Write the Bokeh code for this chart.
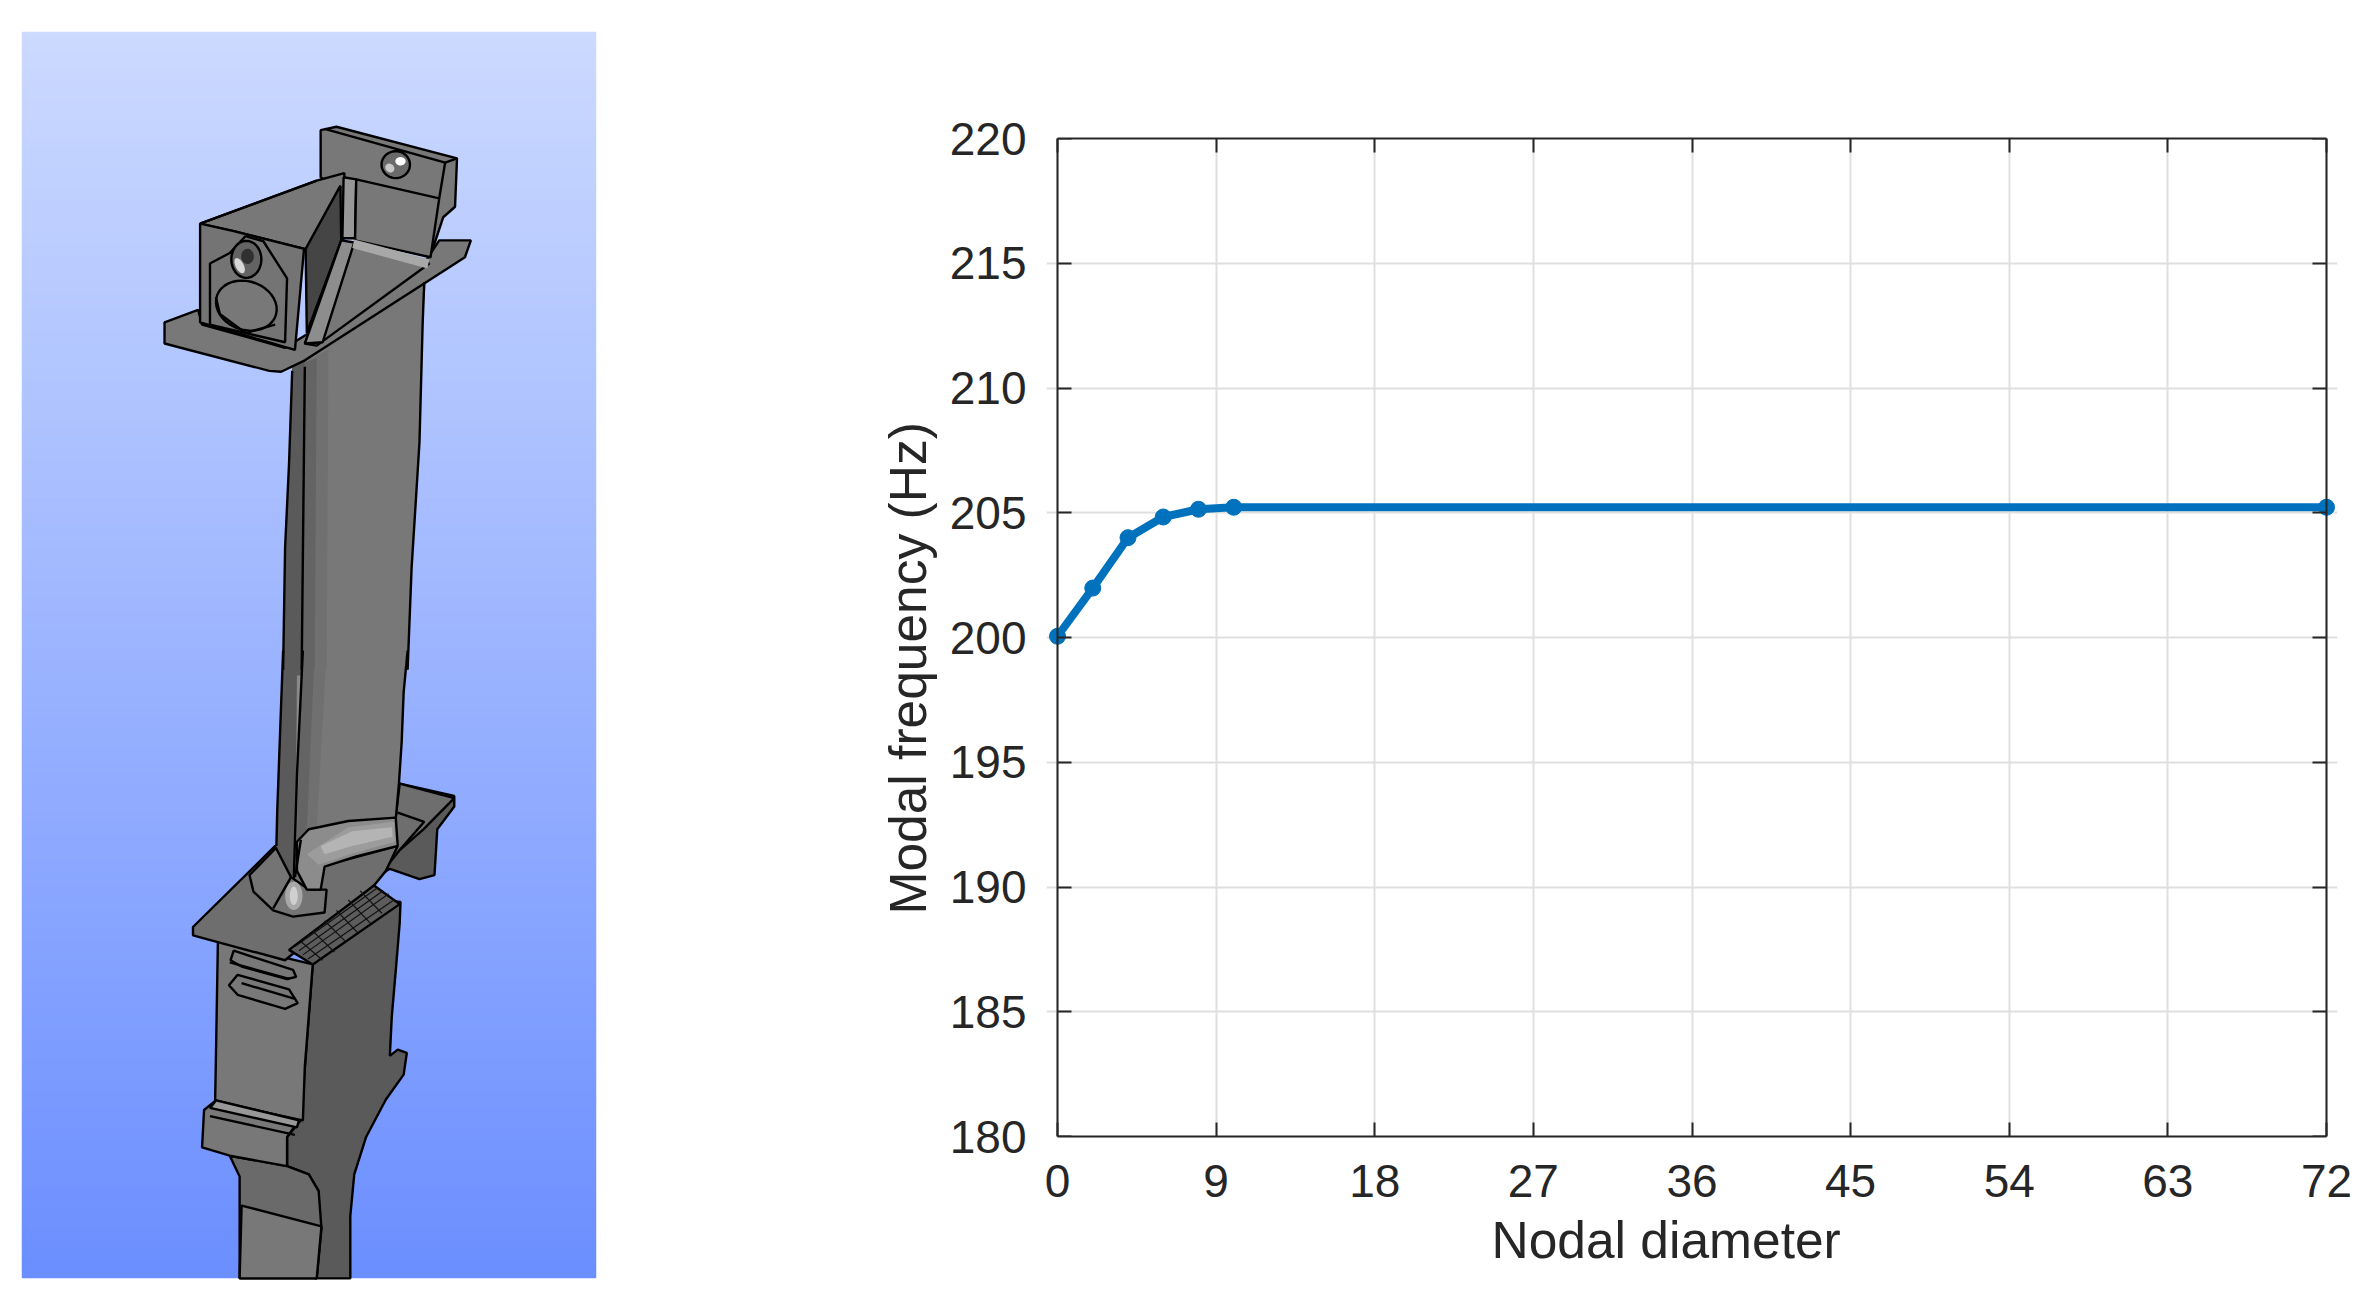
from bokeh.embed import file_html
from bokeh.layouts import row
from bokeh.models import FixedTicker, LinearAxis, Range1d, Title
from bokeh.plotting import figure
from bokeh.resources import INLINE
import numpy as np

# chart values
nodal_diameter = [0, 2, 4, 6, 8, 10, 72]
modal_frequency = [200.05, 201.98, 204.0, 204.83, 205.14, 205.22, 205.22]
x_ticks = [0, 9, 18, 27, 36, 45, 54, 63, 72]
y_ticks = [180, 185, 190, 195, 200, 205, 210, 215, 220]

FONT = "Liberation Sans"
INK = "#262626"
GRID = "#dfdfdf"
BLUE = "#0072BD"

BODY = "#787878"
SIDE = "#5a5a5a"
DARK = "#454545"


def top(pts):
    return [x / 2.53 for x, y in pts], [y / 2.376 for x, y in pts]


def low(pts):
    return [x / 2.53 for x, y in pts], [650 + y / 2.405 for x, y in pts]


def ellipse(cx, cy, rx, ry, tilt, n=40):
    t = np.linspace(0, 2 * np.pi, n)
    a = np.deg2rad(tilt)
    xs = cx + rx * np.cos(t) * np.cos(a) - ry * np.sin(t) * np.sin(a)
    ys = cy + rx * np.cos(t) * np.sin(a) + ry * np.sin(t) * np.cos(a)
    return list(zip(xs, ys))


# (crop function, points, fill colour, outlined)
shapes = [
    # rear plate at the top
    (top, [(810, 308), (850, 300), (1155, 375), (1150, 490), (1120, 515), (1090, 600), (810, 420)], BODY, True),
    # rear platform section
    (low, [(1010, 320), (1148, 350), (1148, 375), (1105, 430), (1098, 540), (1060, 550), (985, 525), (960, 540), (1000, 400)], SIDE, True),
    (low, [(1010, 320), (1148, 355), (1070, 430), (1010, 480), (960, 540), (1000, 400)], "#6e6e6e", True),
    # shank side, front and platform
    (low, [(790, 755), (960, 600), (1012, 605), (1010, 655), (1000, 770), (990, 880), (985, 975), (1005, 960), (1028, 968), (1020, 1020), (975, 1080), (925, 1170), (895, 1260), (885, 1360), (885, 1510), (795, 1510), (805, 1300), (780, 1260), (725, 1240), (725, 1170), (760, 1130)], SIDE, True),
    (low, [(550, 700), (790, 755), (770, 1000), (765, 1130), (543, 1085), (545, 980)], BODY, True),
    (low, [(487, 665), (695, 470), (810, 520), (1005, 470), (975, 530), (945, 565), (720, 745), (487, 685)], "#6e6e6e", True),
    (low, [(730, 720), (945, 565), (1010, 610), (790, 755)], "#5c5c5c", True),
    # blade
    (top, [(738, 860), (770, 840), (1078, 640), (1068, 770), (1060, 1050), (1050, 1200), (1040, 1350), (1030, 1590), (715, 1590), (720, 1300), (730, 1100)], BODY, False),
    (low, [(715, 0), (1030, 0), (1020, 100), (1015, 220), (1008, 320), (1000, 405), (880, 410), (780, 430), (750, 460), (740, 550), (698, 470), (700, 390), (708, 180)], BODY, False),
    (top, [(770, 860), (830, 830), (825, 1590), (762, 1590)], "#707070", False),
    (low, [(762, 0), (825, 0), (800, 430), (750, 460)], "#707070", False),
    (top, [(770, 860), (800, 850), (795, 1590), (762, 1590)], "#646464", False),
    (low, [(762, 0), (795, 0), (775, 435), (750, 460)], "#646464", False),
    (top, [(738, 860), (770, 840), (762, 1590), (715, 1590), (720, 1300), (730, 1100)], SIDE, False),
    (low, [(715, 0), (765, 0), (750, 300), (740, 550), (698, 470), (700, 390), (708, 180)], SIDE, False),
    (low, [(750, 60), (762, 60), (755, 240), (748, 300)], "#8a8a8a", False),
    # root fillets
    (low, [(630, 540), (697, 475), (735, 545), (780, 575), (825, 575), (820, 630), (740, 640), (690, 625), (640, 580)], "#747474", True),
    (low, [(750, 460), (780, 430), (880, 410), (1000, 402), (1005, 470), (900, 495), (820, 520), (810, 575), (775, 575), (750, 530)], "#8c8c8c", True),
    (low, [(775, 490), (880, 425), (995, 412), (998, 460), (890, 488), (805, 515)], "#9c9c9c", False),
    (low, [(810, 470), (890, 435), (990, 425), (992, 448), (890, 470), (820, 490)], "#b4b4b4", False),
    (low, ellipse(742, 590, 22, 34, 0), "#a8a8a8", False),
    (low, ellipse(742, 590, 10, 22, 0), "#d0d0d0", False),
    # slots on the shank
    (low, [(590, 722), (740, 768), (748, 785), (725, 790), (610, 760), (582, 745)], BODY, True),
    (low, [(600, 780), (730, 815), (752, 848), (720, 862), (600, 828), (578, 805)], BODY, True),
    # block and stem at the bottom
    (low, [(580, 1215), (725, 1240), (780, 1260), (805, 1300), (812, 1390), (800, 1510), (605, 1510), (605, 1265)], "#6a6a6a", True),
    (low, [(610, 1335), (812, 1385), (800, 1510), (605, 1510)], BODY, True),
    (low, [(515, 1105), (545, 1082), (755, 1130), (725, 1170), (725, 1240), (580, 1215), (510, 1195)], BODY, True),
    (low, [(545, 1082), (755, 1130), (750, 1147), (530, 1100)], "#989898", True),
    # flange, box walls and ribs at the top of the blade
    (top, [(415, 765), (500, 735), (510, 770), (720, 825), (1075, 620), (1110, 570), (1190, 570), (1175, 610), (770, 855), (710, 882), (680, 880), (415, 815)], BODY, True),
    (top, [(505, 530), (800, 428), (870, 410), (870, 565), (770, 590), (590, 548)], BODY, True),
    (top, [(505, 530), (590, 548), (768, 590), (745, 830), (505, 765)], "#747474", True),
    (top, [(860, 440), (862, 570), (775, 790), (772, 590)], DARK, True),
    (top, [(868, 420), (900, 425), (897, 565), (865, 565)], "#979797", True),
    (top, [(900, 425), (1110, 470), (1088, 610), (897, 570)], BODY, True),
    (top, [(895, 575), (1085, 625), (800, 820), (770, 815)], BODY, True),
    (top, [(862, 570), (895, 575), (815, 812), (770, 815)], "#8d8d8d", True),
    (top, [(895, 568), (1085, 615), (1080, 637), (890, 588)], "#a8a8a8", False),
    (top, [(580, 600), (620, 560), (665, 572), (725, 660), (720, 812), (530, 770), (530, 625)], "#747474", True),
    (top, ellipse(622, 725, 78, 58, 15), BODY, True),
    (top, ellipse(622, 615, 38, 44, 0), "#636363", True),
    (top, ellipse(605, 630, 10, 20, -30), "#d8d8d8", False),
    (top, ellipse(625, 608, 16, 18, 0), "#303030", False),
    (top, ellipse(1000, 390, 36, 32, 0), "#6a6a6a", True),
    (top, ellipse(1012, 382, 13, 10, 0), "#ffffff", False),
    (top, ellipse(985, 398, 12, 10, 30), "#c8c8c8", False),
]

# plain interior edges
edges = [
    (top, [(820, 305), (1125, 385), (1110, 470)]),
    (top, [(1125, 385), (1155, 375)]),
    (top, [(545, 705), (555, 745), (620, 790), (695, 770)]),
    (top, [(505, 530), (800, 428)]),
    (low, [(1005, 390), (1072, 412), (1010, 480)]),
    (low, [(735, 545), (690, 620)]),
    (low, [(580, 750), (730, 790)]),
    (low, [(610, 800), (745, 838)]),
    (low, [(530, 1120), (745, 1165)]),
    (low, [(760, 455), (745, 545)]),
    (top, [(770, 870), (762, 1590)]),
    (low, [(765, 0), (750, 300), (742, 550)]),
    (top, [(738, 880), (730, 1100), (720, 1300), (715, 1590)]),
    (low, [(715, 0), (708, 180), (700, 390), (698, 470)]),
    (top, [(1072, 670), (1068, 770), (1060, 1050), (1050, 1200), (1040, 1350), (1030, 1590)]),
    (low, [(1030, 0), (1020, 100), (1015, 220), (1008, 320), (1000, 405)]),
]
# hatching on the serrated shoulder under the platform
hatch = [
    [(745, 712), (955, 570)], [(755, 722), (968, 578)], [(765, 732), (982, 585)], [(778, 742), (998, 598)],
    [(760, 700), (815, 745)], [(790, 675), (845, 725)], [(820, 650), (875, 702)], [(850, 625), (905, 680)],
    [(880, 600), (935, 655)], [(910, 578), (965, 632)],
]

bg_stops = np.linspace(0, 1, 200)
bg_colors = [
    "#%02x%02x%02x" % (int(204 - 96 * s), int(218 - 75 * s), 255) for s in bg_stops
]
bg_edges = np.linspace(32, 1277, 201)

left = figure(
    width=632,
    height=1286,
    x_range=Range1d(0, 632),
    y_range=Range1d(1286, 0),
    toolbar_location=None,
    output_backend="svg",
    min_border=0,
    tools="",
    frame_align=False,
)
left.axis.visible = False
left.grid.visible = False
left.outline_line_color = None
left.quad(
    left=22, right=595, top=bg_edges[:-1], bottom=bg_edges[1:],
    fill_color=bg_colors, line_color=bg_colors, line_width=1.5,
)

# each shape is drawn one at a time so painter order holds
for crop, pts, fill, outlined in shapes:
    px, py = crop(pts)
    left.patch(px, py, fill_color=fill, line_color="#000000" if outlined else None, line_width=2.4)
for crop, pts in edges:
    px, py = crop(pts)
    left.line(px, py, line_color="#000000", line_width=2.4)
for pts in hatch:
    px, py = low(pts)
    left.line(px, py, line_color="#111111", line_width=1.2)

# right panel: x 0-72 spans page x 1057-2326, y spans 138-1136.
# The frame runs 11 px wider each side so the end markers are not clipped.
pad = 11 * 72 / 1269
p = figure(
    width=1723,
    height=1286,
    x_range=Range1d(-pad, 72 + pad),
    y_range=Range1d(180, 220),
    toolbar_location=None,
    output_backend="svg",
    min_border_left=414,
    min_border_right=18,
    min_border_top=138,
    min_border_bottom=150,
    tools="",
    frame_align=False,
)
p.outline_line_color = None
p.xgrid.ticker = FixedTicker(ticks=x_ticks)
p.ygrid.ticker = FixedTicker(ticks=y_ticks)
p.xgrid.bounds = (0, 72)
p.ygrid.bounds = (180, 220)
p.grid.grid_line_color = GRID
p.grid.grid_line_width = 2

p.add_layout(LinearAxis(fixed_location=0), "left")
p.add_layout(LinearAxis(), "above")
p.add_layout(LinearAxis(fixed_location=72), "right")
label_axis, left_frame = p.left[0], p.left[1]
for ax, ticks in [(p.below[0], x_ticks), (p.above[0], x_ticks), (label_axis, y_ticks), (left_frame, y_ticks), (p.right[0], y_ticks)]:
    ax.ticker = FixedTicker(ticks=ticks)
    ax.axis_line_color = INK
    ax.axis_line_width = 2
    ax.major_tick_line_color = INK
    ax.major_tick_line_width = 2
    ax.major_tick_in = 14
    ax.major_tick_out = 0
    ax.minor_tick_line_color = None
    ax.major_label_text_font = FONT
    ax.major_label_text_font_size = "46px"
    ax.major_label_text_color = INK
p.below[0].bounds = (0, 72)
p.above[0].bounds = (0, 72)
# y tick labels come from an axis at the frame edge; the lines from the one pinned at x=0
label_axis.axis_line_color = None
label_axis.major_tick_line_color = None
left_frame.major_label_text_color = None
left_frame.major_label_text_font_size = "1px"
p.above[0].major_label_text_color = None
p.right[0].major_label_text_color = None
p.above[0].major_label_text_font_size = "1px"
p.right[0].major_label_text_font_size = "1px"
label_axis.major_label_standoff = 20
p.below[0].major_label_standoff = 28

p.line(nodal_diameter, modal_frequency, line_color=BLUE, line_width=8)
p.scatter(nodal_diameter, modal_frequency, size=16, fill_color=BLUE, line_color=BLUE)

# the axis titles sit off the frame centre in the picture, hence left-aligned with offsets
p.add_layout(Title(
    text="Nodal diameter", align="left", offset=445, standoff=18,
    text_font=FONT, text_font_size="51.5px", text_font_style="normal", text_color=INK,
), "below")
p.add_layout(Title(
    text="Modal frequency (Hz)", align="left", offset=222, standoff=19,
    text_font=FONT, text_font_size="51.5px", text_font_style="normal", text_color=INK,
), "left")

layout = row(left, p, spacing=0)
open("out.html", "w").write(file_html(layout, INLINE))
